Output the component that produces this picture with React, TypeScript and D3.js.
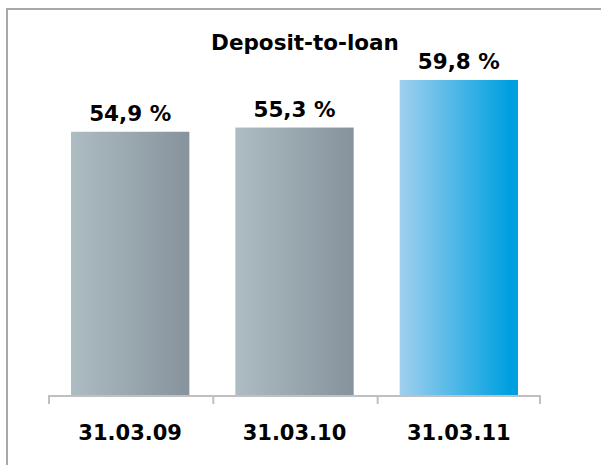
import React from 'react'
import { scaleBand, scaleLinear } from 'd3'

// values
const categories = ['31.03.09', '31.03.10', '31.03.11']
const ratios = [54.9, 55.3, 59.8]
const valueLabels = ['54,9 %', '55,3 %', '59,8 %']
const title = 'Deposit-to-loan'

const W = 601
const H = 465
const FONT = '"DejaVu Sans", Verdana, sans-serif'
const PAD = 0.28

const App = () => {
  const x = scaleBand<string>().domain(categories).range([48, 541]).paddingInner(PAD).paddingOuter(PAD / 2)
  // the value axis does not start at zero in the original
  const y = scaleLinear().domain([30, 65]).range([395, 25])
  const step = x.step()
  const half = (step * PAD) / 2
  const ticks = [...categories.map((c) => x(c)! - half), x(categories[categories.length - 1])! - half + step]

  return (
    <svg width={W} height={H} style={{ position: 'fixed', left: 0, top: 0, background: '#fff' }}>
      <defs>
        <linearGradient id="grey" x1="0" x2="1" y1="0" y2="0">
          <stop offset="0%" stopColor="#adbdc2" />
          <stop offset="100%" stopColor="#86929c" />
        </linearGradient>
        <linearGradient id="blue" x1="0" x2="1" y1="0" y2="0">
          <stop offset="0%" stopColor="#a0d0ee" />
          <stop offset="92%" stopColor="#00a0e0" />
          <stop offset="100%" stopColor="#00a0e0" />
        </linearGradient>
      </defs>

      {/* frame, only top and left edges are inside the crop */}
      <path d={`M7,${H} V9 H${W}`} fill="none" stroke="#a8a8a8" strokeWidth={2} />

      <text x={305} y={49.5} textAnchor="middle" fontFamily={FONT} fontWeight="bold" fontSize={21.5} fill="#000">
        {title}
      </text>

      {categories.map((c, i) => (
        <g key={c}>
          <rect
            x={x(c)}
            y={y(ratios[i])}
            width={x.bandwidth()}
            height={y(30) - y(ratios[i])}
            fill={i === categories.length - 1 ? 'url(#blue)' : 'url(#grey)'}
          />
          <text
            x={x(c)! + x.bandwidth() / 2}
            y={y(ratios[i]) - 11}
            textAnchor="middle"
            fontFamily={FONT}
            fontWeight="bold"
            fontSize={21.5}
            fill="#000"
          >
            {valueLabels[i]}
          </text>
          <text
            x={x(c)! + x.bandwidth() / 2}
            y={439.5}
            textAnchor="middle"
            fontFamily={FONT}
            fontWeight="bold"
            fontSize={21}
            fill="#000"
          >
            {c}
          </text>
        </g>
      ))}

      {/* category axis */}
      <g stroke="#c0c0c0" strokeWidth={2}>
        <line x1={48} x2={541} y1={396} y2={396} />
        {ticks.map((tx, i) => (
          <line key={i} x1={Math.min(tx + 1, 540)} x2={Math.min(tx + 1, 540)} y1={396} y2={404} />
        ))}
      </g>
    </svg>
  )
}

export default App
